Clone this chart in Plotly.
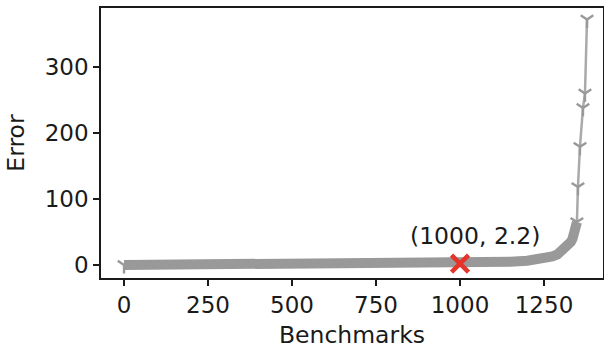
import plotly.graph_objects as go

# Sorted benchmark errors (readings from the chart)
bench = [0, 50, 100, 150, 200, 250, 300, 350, 400, 450, 500, 550, 600, 650, 700,
         750, 800, 850, 900, 950, 1000, 1050, 1100, 1150, 1200, 1225, 1250, 1275,
         1290, 1300, 1310, 1320, 1330, 1335, 1340, 1345, 1348]
error = [0.0, 0.1, 0.2, 0.3, 0.4, 0.5, 0.6, 0.7, 0.8, 0.9, 1.0, 1.1, 1.2, 1.3, 1.4,
         1.5, 1.6, 1.8, 1.9, 2.0, 2.2, 2.8, 3.8, 5.0, 6.5, 8.0, 10.0, 13.0,
         16.0, 20.0, 24.0, 29.0, 35.0, 40.0, 46.0, 55.0, 65.0]
tail_bench = [1348, 1351, 1357, 1366, 1372, 1378]
tail_error = [65.0, 118.0, 179.0, 238.0, 260.0, 372.0]

highlight_x = [1000]
highlight_y = [2.2]
highlight_label = "(1000, 2.2)"

xticks = [0, 250, 500, 750, 1000, 1250]
yticks = [0, 100, 200, 300]

FONT = "DejaVu Sans"
FS_TICK = 23
FS_LABEL = 23.5
TXT = "#1a1a1a"
GREY = "#999999"

fig = go.Figure()

# dense body of overlapping markers -> thick band
fig.add_trace(go.Scatter(
    x=bench, y=error, mode="lines",
    line=dict(color=GREY, width=10), hoverinfo="skip", showlegend=False))

# tail: thin line with tri-down markers
fig.add_trace(go.Scatter(
    x=tail_bench, y=tail_error, mode="lines+markers",
    line=dict(color="#aaaaaa", width=2.5),
    marker=dict(symbol="y-down", size=10.5, color=GREY,
                line=dict(color=GREY, width=2.4)),
    showlegend=False))

# start marker notch
fig.add_trace(go.Scatter(
    x=bench[:1], y=error[:1], mode="markers",
    marker=dict(symbol="y-down", size=10.5, color=GREY,
                line=dict(color=GREY, width=2.4)),
    showlegend=False))

# highlighted point
fig.add_trace(go.Scatter(
    x=highlight_x, y=highlight_y, mode="markers",
    marker=dict(symbol="x-thin", size=17, color="#e5352b",
                line=dict(color="#e5352b", width=4.5)),
    showlegend=False))

fig.add_annotation(x=highlight_x[0], y=highlight_y[0], text=highlight_label,
                   showarrow=False, yshift=28, xshift=15,
                   font=dict(family=FONT, size=FS_LABEL, color=TXT))

axis_common = dict(showline=True, mirror=True, linecolor=TXT, linewidth=1.5,
                   ticks="outside", ticklen=6, tickwidth=1.5, tickcolor=TXT,
                   showgrid=False, zeroline=False, automargin=False,
                   tickfont=dict(family=FONT, size=FS_TICK, color=TXT))

fig.update_xaxes(range=[-68.5, 1425.6], tickvals=xticks,
                 title=dict(text="Benchmarks", font=dict(family=FONT, size=FS_LABEL, color=TXT),
                            standoff=15),
                 **axis_common)
fig.update_yaxes(range=[-19.7, 389.4], tickvals=yticks,
                 title=dict(text="Error", font=dict(family=FONT, size=FS_LABEL, color=TXT),
                            standoff=14),
                 **axis_common)

fig.update_layout(width=604, height=349,
                  margin=dict(l=101, r=1, t=8, b=71),
                  plot_bgcolor="white", paper_bgcolor="white")

fig.write_html("out.html", config={"displayModeBar": False},
               post_script="document.body.style.margin='0';document.body.style.padding='0';")
